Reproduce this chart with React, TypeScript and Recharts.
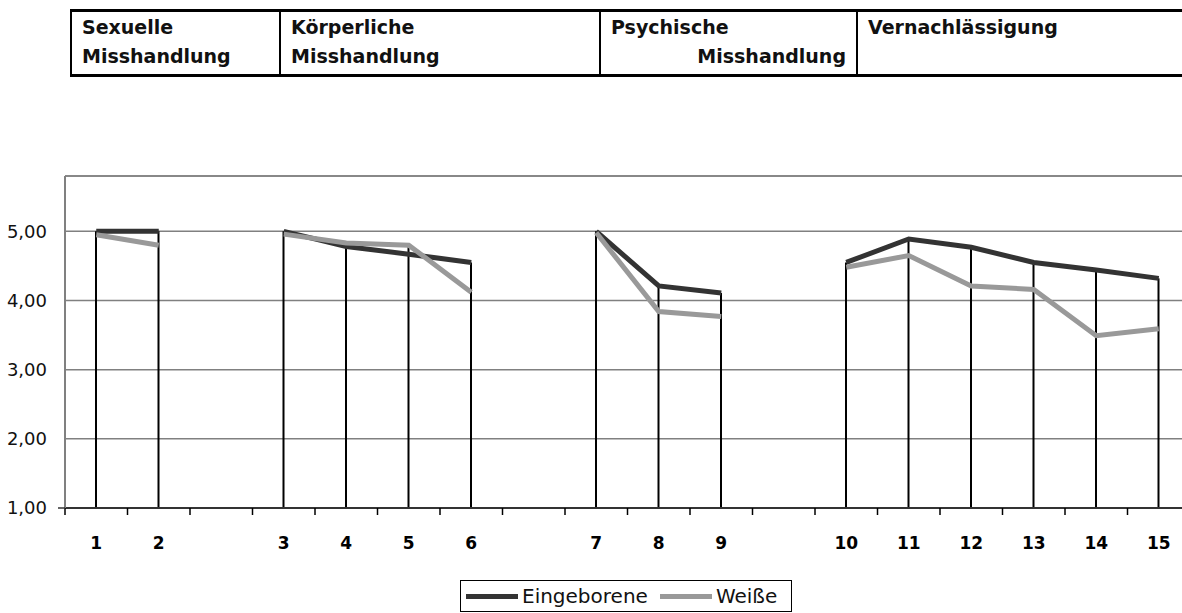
import { ComposedChart, Bar, Line, XAxis, YAxis, CartesianGrid, ReferenceLine, Legend } from "recharts";

// item numbers on the x axis, "" = gap between the four scales
const items = ["1", "2", "", "3", "4", "5", "6", "", "7", "8", "9", "", "10", "11", "12", "13", "14", "15"];
const eingeborene = [5.0, 5.0, null, 5.0, 4.78, 4.67, 4.55, null, 5.0, 4.21, 4.11, null, 4.55, 4.89, 4.77, 4.55, 4.44, 4.32];
const weisse = [4.95, 4.8, null, 4.96, 4.83, 4.8, 4.12, null, 4.98, 3.84, 3.77, null, 4.48, 4.65, 4.21, 4.16, 3.49, 3.59];
const yTicks = [1, 2, 3, 4, 5];
const yMax = 5.8;

const scales = [
  { first: "Sexuelle", second: "Misshandlung" },
  { first: "Körperliche", second: "Misshandlung" },
  { first: "Psychische", second: "Misshandlung" },
  { first: "Vernachlässigung", second: "" },
];

const chartData = items.map((item, i) => ({
  item,
  eingeborene: eingeborene[i],
  weisse: weisse[i],
  drop: eingeborene[i] === null || weisse[i] === null ? null : Math.max(eingeborene[i] as number, weisse[i] as number),
}));

const FONT = "'DejaVu Sans', sans-serif";

const ItemTick = (props: any) => {
  const { x, y, payload } = props;
  const half = payload.offset || 31.25;
  return (
    <g>
      <line x1={x - half} x2={x - half} y1={y} y2={y + 7} stroke="#000" strokeWidth={1.5} />
      <text x={x} y={y + 41} textAnchor="middle" fontSize={17} fontWeight="bold" fontFamily={FONT} fill="#000">
        {payload.value}
      </text>
    </g>
  );
};

const ValueTick = (props: any) => {
  const { x, y, payload } = props;
  return (
    <g>
      {payload.value === yTicks[0] && <line x1={x + 11} x2={x + 18} y1={y} y2={y} stroke="#333" strokeWidth={1.5} />}
      <text x={x} y={y} dy="0.36em" textAnchor="end" fontSize={18} fontFamily={FONT} fill="#111">
        {Number(payload.value).toFixed(2).replace(".", ",")}
      </text>
    </g>
  );
};

const LegendBox = (props: any) => {
  const payload = (props.payload || []).filter((entry: any) => entry.dataKey !== "drop");
  return (
    <div
      style={{
        display: "inline-flex",
        alignItems: "center",
        border: "1px solid #000",
        height: 30,
        padding: "0 14px 0 5px",
        fontFamily: FONT,
        fontSize: 20,
        color: "#111",
        background: "#fff",
      }}
    >
      {payload.map((entry: any, i: number) => (
        <div key={entry.value} style={{ display: "flex", alignItems: "center", marginLeft: i ? 12 : 0 }}>
          <div style={{ width: 52, height: 5, background: entry.color, marginRight: 4 }} />
          <span>{entry.value}</span>
        </div>
      ))}
    </div>
  );
};

const Header = () => {
  const cols = [71, 280, 600, 857, 1182];
  return (
    <div style={{ position: "absolute", left: 0, top: 0, width: 1182, height: 80, fontFamily: FONT }}>
      <div style={{ position: "absolute", left: cols[0], top: 9, width: 1182 - cols[0], height: 3, background: "#000" }} />
      <div style={{ position: "absolute", left: cols[0], top: 74, width: 1182 - cols[0], height: 3, background: "#000" }} />
      {cols.slice(0, 4).map((c) => (
        <div key={c} style={{ position: "absolute", left: c - 1, top: 9, width: 2, height: 68, background: "#000" }} />
      ))}
      {scales.map((s, i) => (
        <div
          key={s.first}
          style={{
            position: "absolute",
            left: cols[i] + 11,
            top: 13,
            width: cols[i + 1] - cols[i] - 22,
            fontSize: 19,
            fontWeight: "bold",
            lineHeight: "29px",
            color: "#111",
          }}
        >
          <div>{s.first}</div>
          <div style={{ textAlign: i === 2 ? "right" : "left" }}>{s.second}</div>
        </div>
      ))}
    </div>
  );
};

export default function App() {
  return (
    <div style={{ position: "absolute", left: 0, top: 0, width: 1182, height: 613, overflow: "hidden", background: "#fff" }}>
      <Header />
      <div style={{ position: "absolute", left: 0, top: 0 }}>
        <ComposedChart width={1200} height={613} data={chartData} margin={{ top: 176, right: 10, bottom: 60, left: 0 }}>
          <CartesianGrid vertical={false} stroke="#808080" strokeWidth={1.5} />
          <ReferenceLine y={yMax} stroke="#808080" strokeWidth={1.5} />
          <XAxis
            dataKey="item"
            interval={0}
            height={45}
            tickSize={0}
            tickMargin={0}
            tickLine={false}
            tick={<ItemTick />}
            axisLine={{ stroke: "#333", strokeWidth: 2 }}
          />
          <YAxis
            type="number"
            domain={[1, yMax]}
            ticks={yTicks}
            width={65}
            tickSize={0}
            tickMargin={18}
            tickLine={false}
            tick={<ValueTick />}
            axisLine={{ stroke: "#808080", strokeWidth: 2 }}
          />
          <Bar dataKey="drop" barSize={2} fill="#000" legendType="none" isAnimationActive={false} />
          <Line
            type="linear"
            dataKey="eingeborene"
            name="Eingeborene"
            stroke="#333333"
            strokeWidth={5}
            dot={false}
            activeDot={false}
            connectNulls={false}
            isAnimationActive={false}
          />
          <Line
            type="linear"
            dataKey="weisse"
            name="Weiße"
            stroke="#999999"
            strokeWidth={5}
            dot={false}
            activeDot={false}
            connectNulls={false}
            isAnimationActive={false}
          />
          <Legend
            layout="horizontal"
            verticalAlign="middle"
            align="center"
            content={<LegendBox />}
            wrapperStyle={{ top: 580, left: 460, width: "auto", height: "auto" }}
          />
        </ComposedChart>
      </div>
    </div>
  );
}
